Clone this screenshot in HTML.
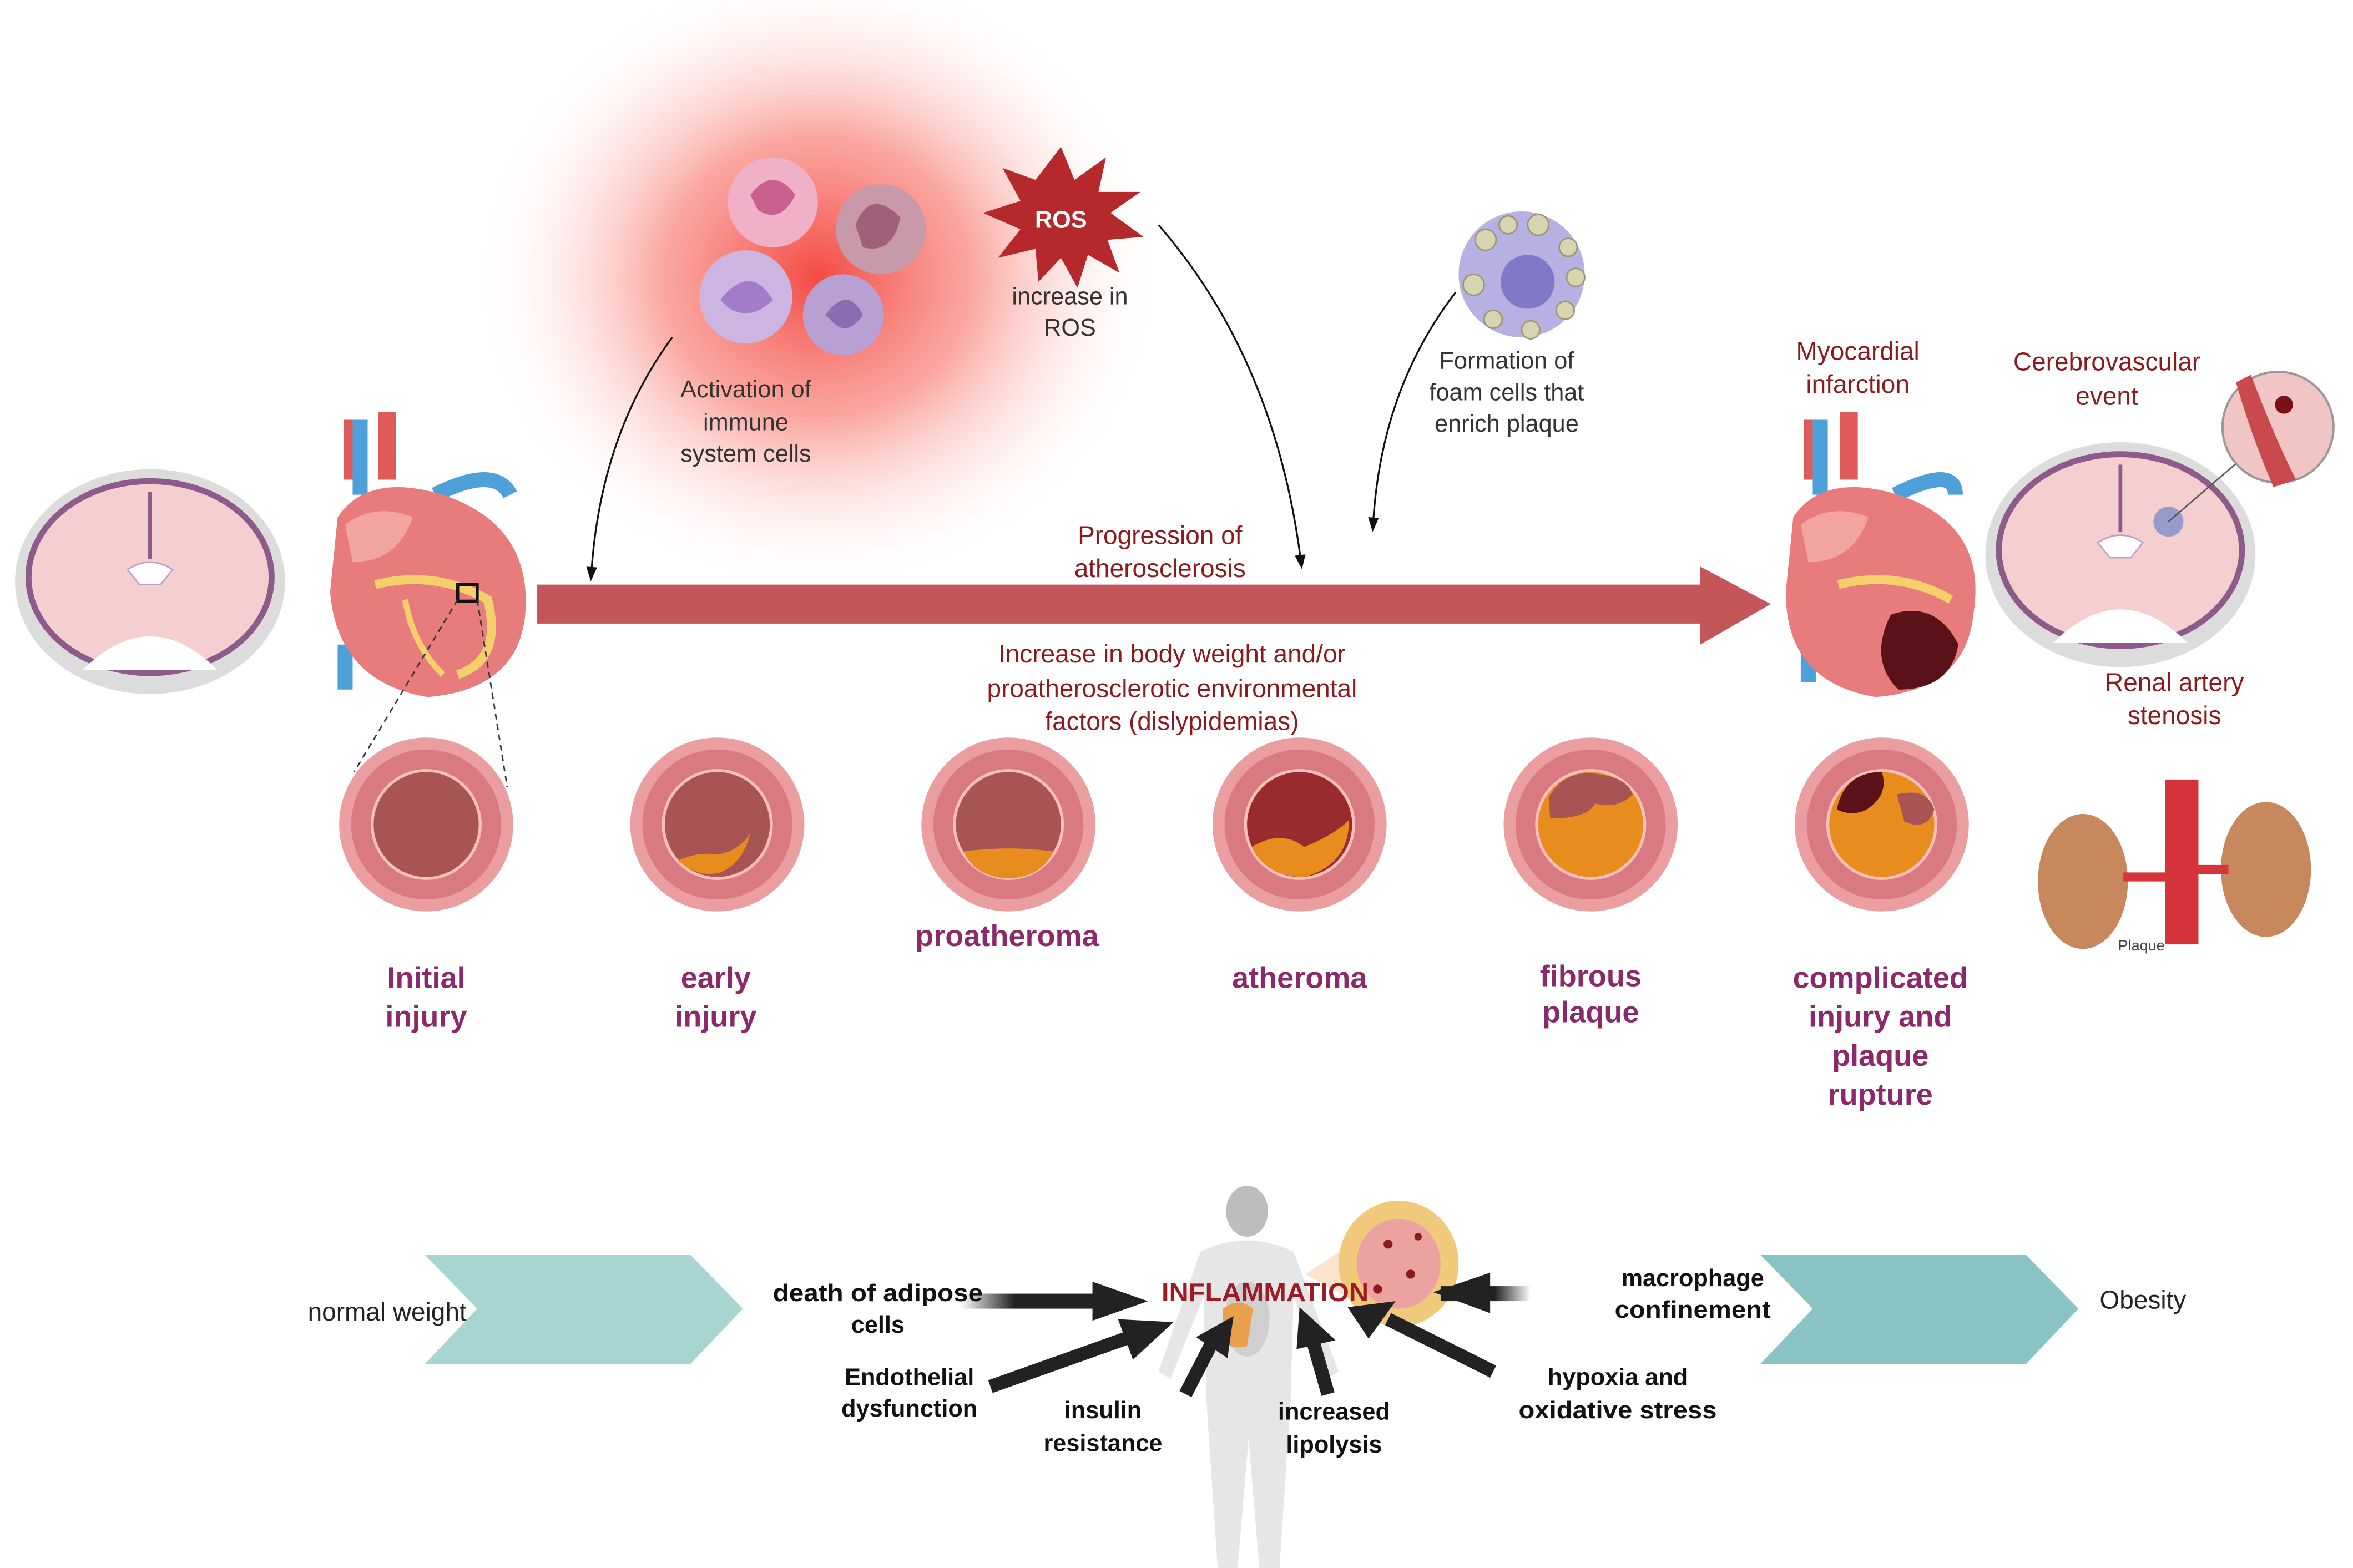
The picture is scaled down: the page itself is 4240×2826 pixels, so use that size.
<!DOCTYPE html>
<html><head><meta charset="utf-8"><style>
html,body{margin:0;padding:0;background:#fff;}
svg{display:block}
text{font-family:"Liberation Sans Narrow","Liberation Sans",sans-serif;}
</style></head><body>
<svg width="4240" height="2826" viewBox="0 0 1568 1046" preserveAspectRatio="none" xmlns="http://www.w3.org/2000/svg">
<defs>
<radialGradient id="glow" cx="0.5" cy="0.5" r="0.5">
<stop offset="0" stop-color="#f2423a" stop-opacity="0.95"/>
<stop offset="0.45" stop-color="#f76d63" stop-opacity="0.6"/>
<stop offset="1" stop-color="#ffffff" stop-opacity="0"/>
</radialGradient>
<linearGradient id="fadeL" x1="0" x2="1"><stop offset="0" stop-color="#222" stop-opacity="0"/><stop offset="0.4" stop-color="#222"/></linearGradient>
<linearGradient id="fadeR" x1="1" x2="0"><stop offset="0" stop-color="#222" stop-opacity="0"/><stop offset="0.4" stop-color="#222"/></linearGradient>
<marker id="ah" markerWidth="8" markerHeight="8" refX="4" refY="4" orient="auto"><path d="M0,1 L8,4 L0,7 z" fill="#111"/></marker>
</defs>

<ellipse cx="545" cy="185" rx="230" ry="210" fill="url(#glow)"/>

<circle cx="515" cy="135" r="30" fill="#f0b0c8"/><path d="M500 130 q15 -20 30 0 q-10 20 -25 10z" fill="#c9608f"/>
<circle cx="587" cy="153" r="30" fill="#c799a9"/><path d="M570 150 q10 -25 30 -5 q-5 25 -25 20z" fill="#a0607a"/>
<circle cx="497" cy="198" r="31" fill="#cdb5e2"/><path d="M480 200 q20 -25 35 0 q-15 15 -30 5z" fill="#a27cc8"/>
<circle cx="562" cy="210" r="27" fill="#b8a0d2"/><path d="M550 210 q15 -20 25 0 q-10 15 -20 5z" fill="#8a6db0"/>

<polygon points="707,98 716,120 737,105 732,128 760,128 740,142 762,158 738,160 746,182 725,170 718,192 707,172 692,188 690,166 665,172 680,153 655,142 680,134 668,112 690,120" fill="#b5282c"/>
<text x="707" y="152" font-size="16" font-weight="bold" fill="#fff" text-anchor="middle">ROS</text>
<g font-size="16" fill="#333" text-anchor="middle">
<text x="713" y="203">increase in</text>
<text x="713" y="224">ROS</text>
<text x="497" y="265">Activation of</text>
<text x="497" y="287">immune</text>
<text x="497" y="308">system cells</text>
<text x="1004" y="246">Formation of</text>
<text x="1004" y="267">foam cells that</text>
<text x="1004" y="288">enrich plaque</text>
</g>

<circle cx="1014" cy="183" r="42" fill="#b7b1e3"/>
<circle cx="1018" cy="188" r="18" fill="#8178c8"/>
<g fill="#d8d4b0" stroke="#9a9470" stroke-width="1">
<circle cx="990" cy="160" r="7"/><circle cx="1005" cy="150" r="6"/><circle cx="1025" cy="150" r="7"/><circle cx="1045" cy="165" r="6"/><circle cx="1050" cy="185" r="6"/><circle cx="1043" cy="207" r="6"/><circle cx="1020" cy="220" r="6"/><circle cx="995" cy="213" r="6"/><circle cx="982" cy="190" r="7"/></g>

<path d="M448 225 Q400 290 394 383" fill="none" stroke="#111" stroke-width="1.2" marker-end="url(#ah)"/>
<path d="M772 150 Q850 240 867 375" fill="none" stroke="#111" stroke-width="1.2" marker-end="url(#ah)"/>
<path d="M970 195 Q920 260 915 350" fill="none" stroke="#111" stroke-width="1.2" marker-end="url(#ah)"/>

<polygon points="358,390 1133,390 1133,378 1180,403 1133,430 1133,416 358,416" fill="#c4565a"/>
<g font-size="17" fill="#8b1a1f" text-anchor="middle">
<text x="773" y="363">Progression of</text>
<text x="773" y="385">atherosclerosis</text>
<text x="781" y="442">Increase in body weight and/or</text>
<text x="781" y="465">proatherosclerotic environmental</text>
<text x="781" y="487">factors (dislypidemias)</text>
<text x="1238" y="240">Myocardial</text>
<text x="1238" y="262">infarction</text>
<text x="1404" y="247">Cerebrovascular</text>
<text x="1404" y="270">event</text>
<text x="1449" y="461">Renal artery</text>
<text x="1449" y="483">stenosis</text>
</g>

<!-- brains -->
<g>
<ellipse cx="100" cy="388" rx="90" ry="75" fill="#dcdcdc"/>
<ellipse cx="100" cy="385" rx="83" ry="66" fill="#8e5a8c"/>
<ellipse cx="100" cy="385" rx="79" ry="62" fill="#f5cfd0"/>
<path d="M55 447 q45 -45 90 0 z" fill="#fff"/>
<path d="M100 328 v45" stroke="#8e5a8c" stroke-width="2.5" fill="none"/>
<path d="M85 380 q15 -10 30 0 l-8 10 h-14 z" fill="#fff" stroke="#b9a0c8"/>
</g>
<g>
<ellipse cx="1413" cy="370" rx="90" ry="75" fill="#dcdcdc"/>
<ellipse cx="1413" cy="367" rx="83" ry="66" fill="#8e5a8c"/>
<ellipse cx="1413" cy="367" rx="79" ry="62" fill="#f5cfd0"/>
<path d="M1368 429 q45 -45 90 0 z" fill="#fff"/>
<path d="M1413 310 v45" stroke="#8e5a8c" stroke-width="2.5" fill="none"/>
<path d="M1398 362 q15 -10 30 0 l-8 10 h-14 z" fill="#fff" stroke="#b9a0c8"/>
<circle cx="1445" cy="348" r="10" fill="#6d86c8" opacity="0.7"/>
<line x1="1445" y1="348" x2="1495" y2="305" stroke="#555" stroke-width="1"/>
<circle cx="1518" cy="285" r="37" fill="#f2c5c5" stroke="#999" stroke-width="1.5"/>
<path d="M1500 250 q15 40 30 70 l-15 5 q-15 -35 -25 -70z" fill="#c94a4d"/>
<circle cx="1522" cy="270" r="6" fill="#7a1015"/>
</g>

<!-- hearts -->
<g>
<path d="M235 280 v40 M258 275 v45" stroke="#e15a5a" stroke-width="12"/>
<path d="M240 280 v50 M230 430 v30" stroke="#4ea1d8" stroke-width="10"/>
<path d="M290 330 q40 -20 50 0" stroke="#4ea1d8" stroke-width="10" fill="none"/>
<path d="M225 345 q20 -30 70 -15 q60 20 55 80 q-5 50 -65 55 q-60 -10 -65 -70z" fill="#e87b7b"/>
<path d="M230 350 q20 -15 45 -5 q-10 30 -40 30z" fill="#f2a5a0"/>
<path d="M250 390 q40 -10 75 10 q10 40 -20 50" stroke="#f3d06a" stroke-width="6" fill="none"/>
<path d="M270 400 q5 30 25 50" stroke="#f3d06a" stroke-width="4" fill="none"/>
<rect x="305" y="390" width="13" height="11" fill="none" stroke="#111" stroke-width="2"/>
<line x1="305" y1="400" x2="236" y2="515" stroke="#333" stroke-dasharray="4,3"/>
<line x1="318" y1="400" x2="338" y2="525" stroke="#333" stroke-dasharray="4,3"/>
</g>
<g>
<path d="M1208 280 v40 M1232 275 v45" stroke="#e15a5a" stroke-width="12"/>
<path d="M1213 280 v50 M1205 430 v25" stroke="#4ea1d8" stroke-width="10"/>
<path d="M1263 330 q40 -20 40 0" stroke="#4ea1d8" stroke-width="10" fill="none"/>
<path d="M1195 345 q20 -30 70 -15 q60 20 50 80 q-5 50 -65 55 q-60 -10 -60 -70z" fill="#e87b7b"/>
<path d="M1200 350 q20 -15 45 -5 q-10 30 -40 30z" fill="#f2a5a0"/>
<path d="M1225 390 q40 -10 75 10" stroke="#f3d06a" stroke-width="6" fill="none"/>
<path d="M1260 410 q30 -10 45 20 q-5 30 -40 30 q-20 -20 -5 -50z" fill="#5a1218"/>
</g>

<g>
<rect x="1443" y="520" width="22" height="110" fill="#d5343a"/>
<ellipse cx="1388" cy="588" rx="30" ry="45" fill="#c8885e"/>
<ellipse cx="1510" cy="580" rx="30" ry="45" fill="#c8885e"/>
<path d="M1415 585 h30 M1465 580 h20" stroke="#d5343a" stroke-width="6"/>
<text x="1427" y="634" font-size="10" fill="#444" text-anchor="middle">Plaque</text>
</g>

<g>
<g transform="translate(284,550)"><circle r="58" fill="#eb9ea0"/><circle r="50" fill="#d97a82"/><circle r="37" fill="#f4c0b8"/><circle r="35" fill="#a85354"/></g>
<g transform="translate(478,550)"><circle r="58" fill="#eb9ea0"/><circle r="50" fill="#d97a82"/><circle r="37" fill="#f4c0b8"/><circle r="35" fill="#a85354"/><path d="M-26 24 q13 -6 26 -4 q14 -2 22 -14 q-5 20 -20 26 q-15 4 -28 -8z" fill="#e88c1e"/></g>
<g transform="translate(672,550)"><circle r="58" fill="#eb9ea0"/><circle r="50" fill="#d97a82"/><circle r="37" fill="#f4c0b8"/><circle r="35" fill="#a85354"/><path d="M-30 18 q30 -4 60 0 q-8 17 -30 18 q-22 -1 -30 -18z" fill="#e88c1e"/></g>
<g transform="translate(866,550)"><circle r="58" fill="#eb9ea0"/><circle r="50" fill="#d97a82"/><circle r="37" fill="#f4c0b8"/><circle r="35" fill="#9b2a2e"/><path d="M-32 15 q20 -12 35 0 q20 -8 30 -18 q0 30 -30 38 q-25 0 -35 -20z" fill="#e88c1e"/></g>
<g transform="translate(1060,550)"><circle r="58" fill="#eb9ea0"/><circle r="50" fill="#d97a82"/><circle r="37" fill="#f4c0b8"/><circle r="35" fill="#e88c1e"/><path d="M-28 -18 q10 -18 30 -16 q22 2 26 14 q-10 10 -25 6 q-5 10 -30 10z" fill="#a85354"/></g>
<g transform="translate(1254,550)"><circle r="58" fill="#eb9ea0"/><circle r="50" fill="#d97a82"/><circle r="37" fill="#f4c0b8"/><circle r="35" fill="#e88c1e"/><path d="M-30 -10 q5 -25 30 -25 q5 15 -10 25 q-10 5 -20 0z" fill="#5a1218"/><path d="M10 -20 q20 -5 25 10 q-5 15 -20 8z" fill="#a85354"/></g>
</g>

<g font-size="20" font-weight="bold" fill="#8a2a6a" text-anchor="middle">
<text x="284" y="659">Initial</text><text x="284" y="685">injury</text>
<text x="477" y="659">early</text><text x="477" y="685">injury</text>
<text x="671" y="631">proatheroma</text>
<text x="866" y="659">atheroma</text>
<text x="1060" y="658">fibrous</text><text x="1060" y="682">plaque</text>
<text x="1253" y="659">complicated</text><text x="1253" y="685">injury and</text><text x="1253" y="711">plaque</text><text x="1253" y="737">rupture</text>
</g>

<polygon points="283,837 460,837 495,873 460,910 283,910 318,873" fill="#a7d5d1"/>
<polygon points="1173,837 1350,837 1385,873 1350,910 1173,910 1208,873" fill="#8ac3c4"/>
<text x="258" y="881" font-size="17" fill="#222" text-anchor="middle">normal weight</text>
<text x="1428" y="873" font-size="17" fill="#222" text-anchor="middle">Obesity</text>

<g fill="#e6e6e6">
<ellipse cx="831" cy="808" rx="14" ry="17" fill="#bdbdbd"/>
<path d="M800 835 q31 -15 62 0 l30 80 l-8 5 l-22 -55 l-2 70 l-8 120 h-12 l-8 -95 l-8 95 h-12 l-8 -120 l-2 -70 l-22 55 l-8 -5z"/>
<ellipse cx="831" cy="880" rx="15" ry="25" fill="#cfcfcf"/>
<path d="M815 873 q10 -8 20 0 l-4 25 q-12 3 -16 -5z" fill="#e8a04a"/>
</g>
<path d="M870 850 l45 -30 l0 55 z" fill="#f8d8b8" opacity="0.7"/>
<ellipse cx="932" cy="843" rx="40" ry="42" fill="#f0c97a"/>
<ellipse cx="932" cy="843" rx="28" ry="30" fill="#eba2a0"/>
<g fill="#8b1a1f"><circle cx="925" cy="830" r="3"/><circle cx="940" cy="850" r="3"/><circle cx="918" cy="860" r="3"/><circle cx="945" cy="825" r="2.5"/></g>

<text x="843" y="868" font-size="17" font-weight="bold" fill="#9b1c24" text-anchor="middle" textLength="138" lengthAdjust="spacingAndGlyphs">INFLAMMATION</text>

<g>
<rect x="640" y="863" width="90" height="10" fill="url(#fadeL)"/>
<polygon points="728,855 765,868 728,881" fill="#222"/>
<rect x="960" y="858" width="60" height="10" fill="url(#fadeR)"/>
<polygon points="993,849 955,862 993,876" fill="#222"/>
<line x1="660" y1="925" x2="750" y2="893" stroke="#222" stroke-width="9"/>
<polygon points="745,880 782,882 755,907" fill="#222"/>
<line x1="790" y1="930" x2="808" y2="895" stroke="#222" stroke-width="9"/>
<polygon points="797,892 822,878 818,906" fill="#222"/>
<line x1="885" y1="930" x2="875" y2="895" stroke="#222" stroke-width="9"/>
<polygon points="864,900 866,872 890,894" fill="#222"/>
<line x1="995" y1="915" x2="925" y2="880" stroke="#222" stroke-width="9"/>
<polygon points="912,893 898,872 930,868" fill="#222"/>
</g>

<g font-size="16" font-weight="bold" fill="#111" text-anchor="middle" lengthAdjust="spacingAndGlyphs">
<text x="585" y="868" textLength="140" lengthAdjust="spacingAndGlyphs">death of adipose</text><text x="585" y="889">cells</text>
<text x="606" y="924">Endothelial</text><text x="606" y="945">dysfunction</text>
<text x="735" y="946">insulin</text><text x="735" y="968">resistance</text>
<text x="889" y="947">increased</text><text x="889" y="969">lipolysis</text>
<text x="1128" y="858">macrophage</text><text x="1128" y="879" textLength="104" lengthAdjust="spacingAndGlyphs">confinement</text>
<text x="1078" y="924">hypoxia and</text><text x="1078" y="946" textLength="132" lengthAdjust="spacingAndGlyphs">oxidative stress</text>
</g>
</svg>
</body></html>
